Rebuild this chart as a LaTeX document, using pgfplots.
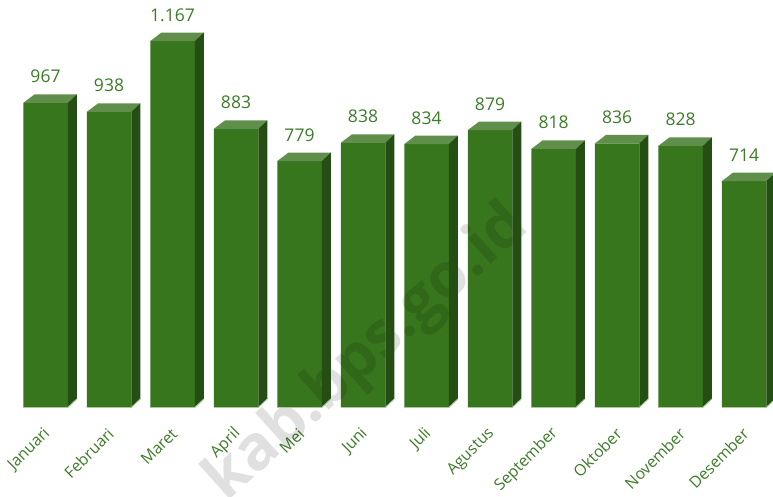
\documentclass[border=0pt]{standalone}
\usepackage{fontspec}
\setmainfont{Open Sans}
\usepackage{pgfplots}
\usepackage{pgfplotstable}
\pgfplotsset{compat=1.18}
\definecolor{frontc}{HTML}{38761D}
\definecolor{topc}{HTML}{5F8F4B}
\definecolor{sidec}{HTML}{244E14}
\definecolor{edgec}{HTML}{A9C99A}
\definecolor{labc}{HTML}{3C7B27}

\pgfplotstableread{
i v lab name
0 967 967 Januari
1 938 938 Februari
2 1167 1.167 Maret
3 883 883 April
4 779 779 Mei
5 838 838 Juni
6 834 834 Juli
7 879 879 Agustus
8 818 818 September
9 836 836 Oktober
10 828 828 November
11 714 714 Desember
}\data

\pgfdeclareplotmark{bartd}{%
  \pgfmathsetlengthmacro\H{(\vv+17.8)*0.3093pt}%
  \pgfsetfillcolor{topc}%
  \pgfpathmoveto{\pgfpoint{-22.25pt}{0pt}}%
  \pgfpathlineto{\pgfpoint{22.25pt}{0pt}}%
  \pgfpathlineto{\pgfpoint{31.25pt}{8.5pt}}%
  \pgfpathlineto{\pgfpoint{-11.0pt}{8.5pt}}%
  \pgfpathclose
  \pgfusepath{fill}%
  \pgfsetfillcolor{sidec}%
  \pgfpathmoveto{\pgfpoint{22.25pt}{0pt}}%
  \pgfpathlineto{\pgfpoint{31.25pt}{8.5pt}}%
  \pgfpathlineto{\pgfpoint{31.25pt}{8.5pt-\H}}%
  \pgfpathlineto{\pgfpoint{22.25pt}{-\H}}%
  \pgfpathclose
  \pgfusepath{fill}%
  \pgfsetstrokecolor{edgec}%
  \pgfsetlinewidth{0.9pt}%
  \pgfpathmoveto{\pgfpoint{-22.25pt}{-\H}}%
  \pgfpathlineto{\pgfpoint{22.25pt}{-\H}}%
  \pgfpathlineto{\pgfpoint{31.25pt}{8.5pt-\H}}%
  \pgfusepath{stroke}%
}

\begin{document}
\begin{tikzpicture}
\path[use as bounding box] (0,0) rectangle (773pt,496pt);
\begin{axis}[
  at={(13.75pt,88.5pt)}, anchor=south west,
  x=63.5pt, y=0.3093pt,
  xmin=-0.5, xmax=11.5, ymin=0, ymax=1300,
  clip=false,
  axis line style={draw=none},
  major tick length=0pt,
  ytick=\empty,
  xtick={0,...,11},
  xticklabels from table={\data}{name},
  xticklabel style={inner sep=0pt, anchor=east, xshift=2pt, yshift=-23.5pt, rotate=45,
    font=\fontsize{15.8}{18}\selectfont, text=labc},
]
\addplot[ybar, bar width=44.5pt, fill=frontc, draw=none,
  point meta=explicit symbolic,
  nodes near coords,
  every node near coord/.append style={anchor=base, yshift=20pt,
    font=\fontsize{17.5}{20}\selectfont, text=labc}]
  table[x=i, y expr=\thisrow{v}+17.8, meta=lab] {\data};
\addplot[only marks, mark=bartd,
  visualization depends on={\thisrow{v} \as \vv}]
  table[x=i, y expr=\thisrow{v}+17.8] {\data};
\node[rotate=42, anchor=base, opacity=0.12, text=black,
  font=\bfseries\fontsize{62}{68}\selectfont] at (axis cs:5.25,135) {kab.bps.go.id};
\end{axis}
\end{tikzpicture}
\end{document}
